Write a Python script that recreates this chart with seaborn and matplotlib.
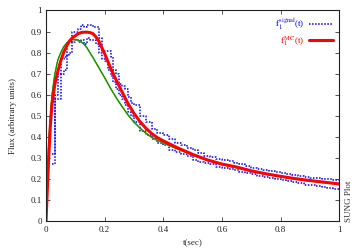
import numpy as np
import pandas as pd
import seaborn as sns
import matplotlib
matplotlib.use("Agg")
import matplotlib.pyplot as plt

sns.set_style("ticks")
plt.rcParams["font.family"] = ["Liberation Serif", "DejaVu Serif"]
plt.rcParams["mathtext.fontset"] = "stix"

# MC fit (red)
t_mc = [0, 0.005, 0.01, 0.015, 0.02, 0.03, 0.04, 0.05, 0.06, 0.07, 0.08, 0.09,
        0.10, 0.11, 0.12, 0.13, 0.14, 0.15, 0.16, 0.17, 0.18, 0.19, 0.20, 0.22,
        0.24, 0.26, 0.28, 0.30, 0.32, 0.34, 0.36, 0.38, 0.40, 0.45, 0.50, 0.55,
        0.60, 0.65, 0.70, 0.75, 0.80, 0.85, 0.90, 0.95, 1.00]
f_mc = [0, 0.17, 0.33, 0.46, 0.55, 0.65, 0.71, 0.76, 0.80, 0.83, 0.855, 0.87,
        0.88, 0.89, 0.895, 0.897, 0.897, 0.895, 0.89, 0.875, 0.855, 0.825, 0.795, 0.728,
        0.668, 0.612, 0.558, 0.512, 0.474, 0.443, 0.417, 0.397, 0.382, 0.348, 0.318, 0.292,
        0.272, 0.258, 0.240, 0.226, 0.214, 0.203, 0.194, 0.186, 0.178]

# model curves (green / olive)
t_model = [0, 0.005, 0.01, 0.02, 0.03, 0.04, 0.05, 0.06, 0.07, 0.08, 0.09, 0.10,
           0.11, 0.12, 0.13, 0.14, 0.15, 0.16, 0.18, 0.20, 0.22, 0.24, 0.26, 0.28,
           0.30, 0.32, 0.34, 0.36, 0.38, 0.40, 0.45, 0.50, 0.55, 0.60, 0.65, 0.70,
           0.75, 0.80, 0.85, 0.90, 0.95, 1.00]
f_green = [0, 0.22, 0.40, 0.60, 0.70, 0.765, 0.80, 0.828, 0.845, 0.855, 0.862, 0.863,
           0.86, 0.852, 0.84, 0.823, 0.80, 0.778, 0.73, 0.682, 0.632, 0.586, 0.544, 0.505,
           0.472, 0.444, 0.42, 0.40, 0.385, 0.372, 0.343, 0.315, 0.290, 0.270, 0.255, 0.238,
           0.224, 0.212, 0.201, 0.192, 0.184, 0.176]
f_olive = [0, 0.21, 0.39, 0.595, 0.695, 0.762, 0.797, 0.826, 0.843, 0.853, 0.86, 0.861,
           0.858, 0.85, 0.838, 0.821, 0.798, 0.776, 0.728, 0.68, 0.63, 0.584, 0.542, 0.503,
           0.47, 0.442, 0.418, 0.398, 0.383, 0.371, 0.342, 0.314, 0.289, 0.269, 0.254, 0.237,
           0.223, 0.211, 0.200, 0.191, 0.183, 0.175]

# signal histogram band (blue dotted), left bin edges
t_sig = [0.02, 0.03, 0.04, 0.05, 0.06, 0.07, 0.08, 0.09, 0.10, 0.11, 0.12, 0.13,
         0.14, 0.15, 0.16, 0.17, 0.18, 0.19, 0.20, 0.21, 0.22, 0.23, 0.24, 0.25,
         0.26, 0.27, 0.28, 0.29, 0.30, 0.32, 0.34, 0.36, 0.38, 0.40, 0.42, 0.44,
         0.46, 0.48, 0.50, 0.52, 0.54, 0.56, 0.58, 0.60, 0.62, 0.64, 0.66, 0.68,
         0.70, 0.72, 0.74, 0.76, 0.78, 0.80, 0.82, 0.84, 0.86, 0.88, 0.90, 0.92,
         0.94, 0.96, 0.98]
sig_hi = [0.32, 0.60, 0.70, 0.77, 0.78, 0.85, 0.85, 0.90, 0.90, 0.91, 0.93, 0.92,
          0.93, 0.93, 0.92, 0.92, 0.87, 0.81, 0.81, 0.81, 0.78, 0.72, 0.70, 0.65,
          0.64, 0.63, 0.59, 0.56, 0.55, 0.50, 0.47, 0.44, 0.42, 0.41, 0.39, 0.37,
          0.36, 0.35, 0.34, 0.325, 0.31, 0.305, 0.295, 0.29, 0.285, 0.275, 0.27, 0.265,
          0.255, 0.25, 0.245, 0.24, 0.235, 0.23, 0.225, 0.22, 0.215, 0.21, 0.205, 0.205,
          0.20, 0.20, 0.195]
sig_lo = [0.27, 0.58, 0.58, 0.70, 0.72, 0.79, 0.80, 0.85, 0.86, 0.85, 0.86, 0.84,
          0.87, 0.86, 0.86, 0.84, 0.80, 0.77, 0.76, 0.72, 0.69, 0.66, 0.63, 0.60,
          0.58, 0.55, 0.52, 0.50, 0.47, 0.43, 0.41, 0.39, 0.37, 0.36, 0.34, 0.33,
          0.32, 0.31, 0.29, 0.28, 0.275, 0.27, 0.26, 0.255, 0.25, 0.245, 0.235, 0.23,
          0.225, 0.215, 0.21, 0.205, 0.20, 0.195, 0.19, 0.185, 0.18, 0.175, 0.172, 0.168,
          0.165, 0.16, 0.155]

fig = plt.figure(figsize=(3.54, 2.48), dpi=100, facecolor="w")
ax = fig.add_axes([0.130, 0.107, 0.828, 0.851])

dot = (0, (1, 1))
sig_t = t_sig + [1.0]
sns.lineplot(x=sig_t, y=sig_hi + [sig_hi[-1]], ax=ax, color="#0000ff", lw=1.1,
             linestyle=dot, drawstyle="steps-post", label=r"$\mathrm{f}_{1}^{\,\mathrm{signal}}$(t)")
sns.lineplot(x=sig_t, y=sig_lo + [sig_lo[-1]], ax=ax, color="#0000ff", lw=1.1,
             linestyle=dot, drawstyle="steps-post")
sns.lineplot(x=t_model, y=f_olive, ax=ax, color="#a08000", lw=0.9)
sns.lineplot(x=t_model, y=f_green, ax=ax, color="#00a000", lw=0.9)
sns.lineplot(x=t_mc, y=f_mc, ax=ax, color="#ff0000", lw=2.2,
             label=r"$\mathrm{f}_{1}^{\,\mathrm{MC}}$(t)")

ax.set_xlim(0, 1)
ax.set_ylim(0, 1)
ax.set_xticks(np.arange(0, 1.01, 0.2))
ax.set_xticklabels(["0", "0.2", "0.4", "0.6", "0.8", "1"])
ax.set_yticks(np.arange(0, 1.01, 0.1))
ax.set_yticklabels(["0"] + ["%.1f" % v for v in np.arange(0.1, 0.95, 0.1)] + ["1"])
ax.tick_params(direction="in", length=3, width=0.6, labelsize=6.5, pad=3,
               top=True, right=True, colors="#333333", labelcolor="#222222")
for s in ax.spines.values():
    s.set_linewidth(0.8)
    s.set_color("#222222")

ax.set_xlabel("t(sec)", fontsize=6.5, labelpad=4)
ax.set_ylabel("Flux (arbitrary units)", fontsize=6.5, labelpad=10)
fig.text(0.985, 0.105, "SUNG Plot", rotation=90, fontsize=6.5, ha="center", va="bottom",
         color="#333333")

leg = ax.legend(loc="upper right", frameon=False, markerfirst=False, fontsize=6.5,
                labelcolor="linecolor", handlelength=2.6, handletextpad=0.6,
                borderaxespad=0.3, labelspacing=0.2)

fig.savefig("out.png", dpi=100)
